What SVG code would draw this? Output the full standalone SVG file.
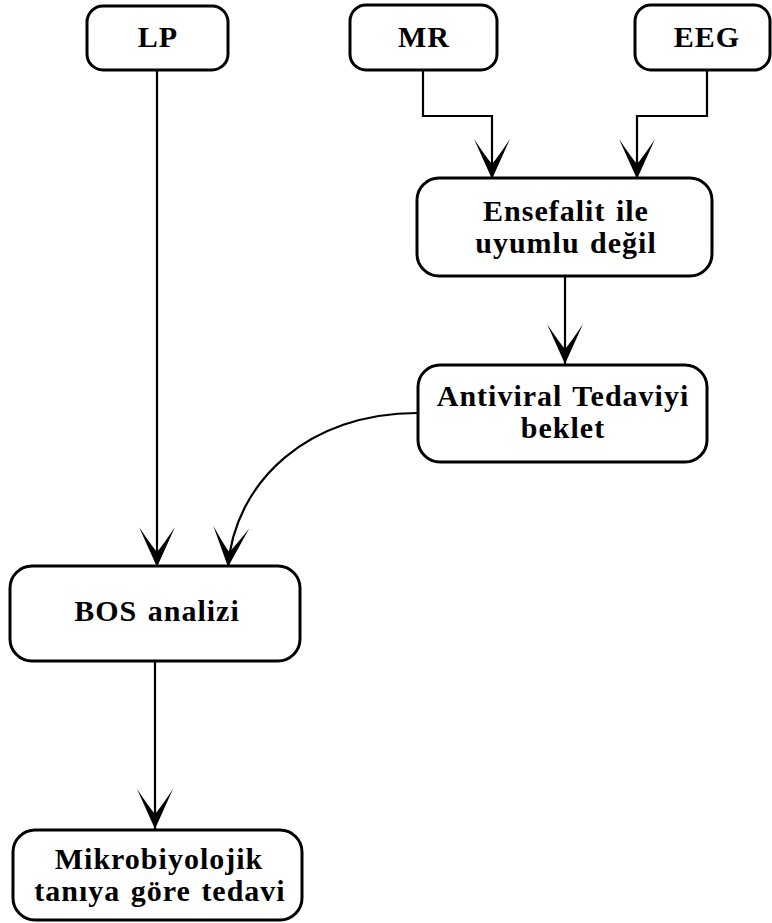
<svg xmlns="http://www.w3.org/2000/svg" width="772" height="923" viewBox="0 0 772 923">
  <style>
    .box { fill: #ffffff; stroke: #000000; stroke-width: 3; }
    .lbl { font-family: "Liberation Serif", "Times New Roman", serif; font-weight: bold; font-size: 30px; letter-spacing: 1px; word-spacing: 2px; fill: #000000; text-anchor: middle; }
    .edge { fill: none; stroke: #000000; stroke-width: 2.2; }
  </style>
  <defs>
    <marker id="arrow" markerUnits="userSpaceOnUse" markerWidth="44" markerHeight="40" viewBox="-42 -20 44 40" refX="0" refY="0" orient="auto">
      <path d="M0,0 L-40,-18 Q-22,-6 -15,0 Q-22,6 -40,18 Z" fill="#000000"/>
    </marker>
  </defs>

  <g id="connectors">
    <path class="edge" d="M157,70 L157,567" marker-end="url(#arrow)"/>
    <path class="edge" d="M423,70 L423,116 L492,116 L492,179" marker-end="url(#arrow)"/>
    <path class="edge" d="M707,70 L707,116 L637,116 L637,179" marker-end="url(#arrow)"/>
    <path class="edge" d="M565,276 L565,364" marker-end="url(#arrow)"/>
    <path class="edge" d="M417,413 C310,413 235,480 228,567" marker-end="url(#arrow)"/>
    <path class="edge" d="M155,661 L155,829" marker-end="url(#arrow)"/>
  </g>

  <g id="lp">
    <rect class="box" x="87" y="6" width="141" height="64" rx="16"/>
    <text class="lbl" x="158" y="47">LP</text>
  </g>
  <g id="mr">
    <rect class="box" x="350" y="5" width="147" height="65" rx="16"/>
    <text class="lbl" x="424" y="47">MR</text>
  </g>
  <g id="eeg">
    <rect class="box" x="635" y="5" width="135" height="65" rx="16"/>
    <text class="lbl" x="707" y="47">EEG</text>
  </g>
  <g id="ensefalit">
    <rect class="box" x="417" y="178" width="295" height="98" rx="22"/>
    <text class="lbl" x="566" y="221">Ensefalit ile</text>
    <text class="lbl" x="566" y="253">uyumlu değil</text>
  </g>
  <g id="antiviral">
    <rect class="box" x="418" y="365" width="289" height="97" rx="22"/>
    <text class="lbl" x="563" y="406">Antiviral Tedaviyi</text>
    <text class="lbl" x="563" y="438">beklet</text>
  </g>
  <g id="bos">
    <rect class="box" x="10" y="566" width="290" height="95" rx="22"/>
    <text class="lbl" x="157" y="621">BOS analizi</text>
  </g>
  <g id="tedavi">
    <rect class="box" x="13" y="830" width="289" height="90" rx="22"/>
    <text class="lbl" x="159" y="869">Mikrobiyolojik</text>
    <text class="lbl" x="160" y="901">tanıya göre tedavi</text>
  </g>
</svg>
